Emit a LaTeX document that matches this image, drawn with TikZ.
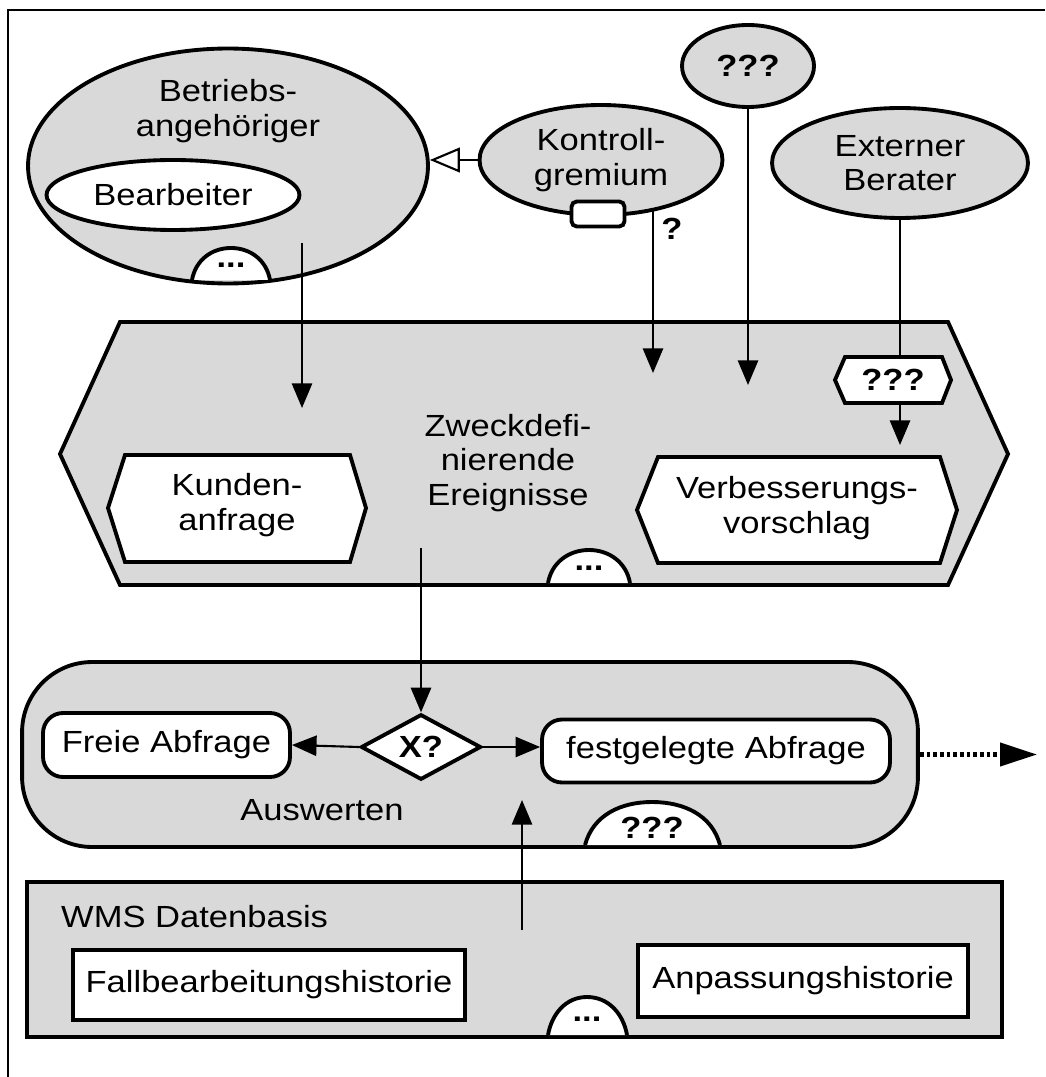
\documentclass[tikz,border=0pt]{standalone}
\usepackage{fontspec}
\setmainfont{Liberation Sans}[FakeStretch=1.13]
\usetikzlibrary{shapes.geometric, arrows.meta, positioning, calc}

\begin{document}
\begin{tikzpicture}[x=0.02cm, y=-0.02cm,
    font=\fontsize{17.4}{19.5}\selectfont,
    every node/.style={align=center},
    actor/.style={ellipse, draw, line width=2.2pt, fill=black!15, inner sep=0pt},
    group/.style={rectangle, draw, line width=2.2pt, fill=black!15, rounded corners=1.4cm},
    task/.style={rectangle, draw, line width=2.2pt, fill=white, rounded corners=0.4cm},
    store/.style={rectangle, draw, line width=2.2pt, fill=white, inner sep=0pt},
    minibox/.style={rectangle, draw, line width=2.2pt, fill=white, rounded corners=3pt, minimum width=1.06cm, minimum height=0.5cm},
    hexpath/.style={draw, line width=2.2pt, fill=white},
    bump/.style={draw, line width=2.2pt, fill=white},
    flow/.style={-{Triangle[length=14pt,width=11.5pt]}, line width=1.2pt},
    morearrow/.style={-{Triangle[length=21pt,width=13pt]}, line width=2.6pt, dash pattern=on 2.2pt off 1.6pt}
]
    \useasboundingbox (0,0) rectangle (1045,1077);
    \draw[line width=1.2pt] (8,1077) -- (8,10) -- (1045,10);

    % Akteure
    \node[actor, minimum width=8cm, minimum height=4.7cm] (betr) at (228,166) {};
    \node (betrtxt) at (228,111) {Betriebs-\\angehöriger};
    \node[actor, fill=white, minimum width=5.06cm, minimum height=1.4cm] (bearb) at (173,195) {Bearbeiter};
    \draw[bump] (192,280) to[out=80,in=180] (231,248) to[out=0,in=100] (270,280);
    \node (betrmore) at (231,265) {\textbf{...}};

    \node[actor, minimum width=4.86cm, minimum height=2.2cm] (kontr) at (601,160) {Kontroll-\\gremium};
    \node[minibox] (kontrbox) at (598,214) {};
    \node (kontrq) at (672,229) {\textbf{?}};
    \node[actor, minimum width=2.64cm, minimum height=1.64cm] (unkn) at (748,66) {\textbf{???}};
    \node[actor, minimum width=5.12cm, minimum height=2.2cm] (ext) at (900,163) {Externer\\Berater};

    % Zweckdefinierende Ereignisse
    \draw[hexpath, fill=black!15] (120,322) -- (948,322) -- (1008,454) -- (948,585) -- (120,585) -- (60,454) -- cycle;
    \node (zweck) at (508,463) {Zweckdefi-\\nierende\\Ereignisse};
    \draw[hexpath] (125,455) -- (350,455) -- (366,508) -- (350,562) -- (125,562) -- (108,508) -- cycle;
    \node (kunde) at (237,505) {Kunden-\\anfrage};
    \draw[hexpath] (658,457) -- (940,457) -- (957,510) -- (940,563) -- (658,563) -- (637,510) -- cycle;
    \node (verb) at (797,508) {Verbesserungs-\\vorschlag};
    \draw[hexpath] (845,357) -- (942,357) -- (951,380) -- (942,403) -- (845,403) -- (835,380) -- cycle;
    \node (qhex) at (893,380) {\textbf{???}};
    \draw[bump] (548,583) to[out=80,in=180] (589,550) to[out=0,in=100] (630,583);
    \node (zweckmore) at (589,568) {\textbf{...}};

    % Auswerten
    \node[group, minimum width=17.92cm, minimum height=3.7cm] (ausw) at (470,754.5) {};
    \node (auswtxt) at (322,810) {Auswerten};
    \node[task, minimum width=4.94cm, minimum height=1.28cm] (freie) at (166.5,745) {Freie Abfrage};
    \node[diamond, draw, line width=2.2pt, fill=white, minimum width=2.4cm, minimum height=1.26cm, inner sep=0pt] (xor) at (421,747) {\textbf{X?}};
    \node[task, minimum width=6.96cm, minimum height=1.26cm] (fest) at (716,751) {festgelegte Abfrage};
    \draw[bump] (585,845) to[out=75,in=180] (652,802) to[out=0,in=105] (720,845);
    \node (auswmore) at (652,828) {\textbf{???}};

    % WMS Datenbasis
    \node[store, fill=black!15, minimum width=19.5cm, minimum height=3.1cm] (wms) at (514.5,959.5) {};
    \node[anchor=west] (wmstxt) at (55,917) {WMS Datenbasis};
    \node[store, minimum width=7.84cm, minimum height=1.4cm] (fallb) at (269,985) {Fallbearbeitungshistorie};
    \node[store, minimum width=6.6cm, minimum height=1.44cm] (anp) at (803,981) {Anpassungshistorie};
    \draw[bump] (548,1035) to[out=80,in=180] (587,997) to[out=0,in=100] (627,1035);
    \node (wmsmore) at (587,1019) {\textbf{...}};

    % Endpunkte
    \coordinate (betrout) at (302,243);
    \coordinate (kundin) at (302,408);
    \coordinate (kontrout) at (653,209);
    \coordinate (zweckin1) at (653,373);
    \coordinate (zweckin2) at (748,385);
    \coordinate (qtop) at (900,357);
    \coordinate (qbot) at (900,403);
    \coordinate (verbin) at (900,445);
    \coordinate (zweckout) at (421,548);
    \coordinate (wmsout) at (522,930);
    \coordinate (festin) at (522,800);
    \coordinate (moreout) at (1037,754.5);

    % Flows
    \draw[-{Triangle[open,length=17pt,width=14pt]}, line width=1.2pt] (kontr.west) -- (kontr.west -| betr.east);
    \draw[flow] (betrout) -- (kundin);
    \draw[flow] (kontrout) -- (zweckin1);
    \draw[flow] (unkn.south) -- (zweckin2);
    \draw[line width=1.2pt] (ext.south) -- (qtop);
    \draw[flow] (qbot) -- (verbin);
    \draw[flow] (zweckout) -- (xor.north);
    \draw[flow] (xor.west) -- (freie.east);
    \draw[flow] (xor.east) -- (xor.east -| fest.west);
    \draw[flow] (wmsout) -- (festin);
    \draw[morearrow] (ausw.east) -- (moreout);

\end{tikzpicture}
\end{document}
